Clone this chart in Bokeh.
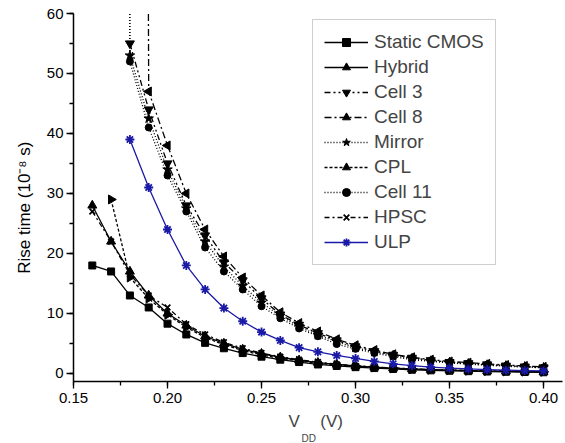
import math
from bokeh.plotting import figure
from bokeh.models import FixedTicker, PrintfTickFormatter, Title, Range1d
from bokeh.embed import file_html
from bokeh.resources import INLINE

# ---- data ----
x_all = [0.16, 0.17, 0.18, 0.19, 0.20, 0.21, 0.22, 0.23, 0.24, 0.25, 0.26, 0.27, 0.28,
         0.29, 0.30, 0.31, 0.32, 0.33, 0.34, 0.35, 0.36, 0.37, 0.38, 0.39, 0.40]
x_from_017 = x_all[1:]
x_from_018 = x_all[2:]

static_cmos = [18, 17, 13, 11, 8.3, 6.5, 5.1, 4.2, 3.4, 2.8, 2.3, 1.9, 1.5, 1.25, 1.05,
               0.9, 0.75, 0.62, 0.52, 0.45, 0.38, 0.32, 0.28, 0.24, 0.2]
hybrid = [28, 22, 17, 13, 10, 8, 6.2, 5, 4, 3.3, 2.7, 2.2, 1.8, 1.5, 1.25, 1.05, 0.88,
          0.75, 0.63, 0.54, 0.47, 0.41, 0.36, 0.32, 0.28]
cell3 = [55, 44, 35, 28, 23, 18.5, 15.5, 12.5, 9.8, 8.1, 6.7, 5.5, 4.5, 3.7, 3.1, 2.6,
         2.2, 1.9, 1.7, 1.5, 1.3, 1.15, 1.0]
cell8 = [900, 47, 38, 30, 24, 19.5, 16, 13, 10.2, 8.4, 7.0, 5.7, 4.7, 3.9, 3.2, 2.7, 2.3,
         2.0, 1.8, 1.6, 1.4, 1.25, 1.1]
mirror = [900, 53, 42.5, 34, 27.5, 22, 17.8, 14.6, 11.8, 9.6, 7.8, 6.4, 5.3, 4.3, 3.6, 3.0,
          2.5, 2.1, 1.85, 1.65, 1.45, 1.3, 1.15, 1.0]
cpl = [29, 16, 12.5, 9.8, 7.7, 6, 4.8, 3.8, 3.1, 2.5, 2.1, 1.7, 1.4, 1.2, 1.0, 0.85, 0.72,
       0.62, 0.53, 0.46, 0.4, 0.35, 0.31, 0.27]
cell11 = [900, 52, 41, 33, 27, 21, 17, 14, 11.2, 9.2, 7.5, 6.2, 4.9, 4.1, 3.4, 2.8, 2.3,
          2.0, 1.75, 1.55, 1.35, 1.2, 1.05, 0.95]
hpsc = [27, 22, 16.5, 13, 11, 8.2, 6.5, 5.2, 4.2, 3.4, 2.8, 2.3, 1.9, 1.55, 1.3, 1.1, 0.92,
        0.78, 0.66, 0.57, 0.5, 0.44, 0.39, 0.35, 0.31]
ulp = [39, 31, 24, 18, 14, 10.9, 8.7, 6.9, 5.5, 4.3, 3.6, 3.0, 2.5, 2.0, 1.6, 1.3, 1.05,
       0.9, 0.75, 0.65, 0.55, 0.48, 0.42]

x_ticks = [0.15, 0.20, 0.25, 0.30, 0.35, 0.40]
y_ticks = [0, 10, 20, 30, 40, 50, 60]

FONT = "Liberation Sans"

p = figure(width=565, height=443, output_backend="svg", toolbar_location=None,
           x_range=Range1d(0.15, 0.4101), y_range=Range1d(-1.34, 60),
           min_border_left=73, min_border_right=3, min_border_top=13, min_border_bottom=20)
p.outline_line_color = None
p.grid.visible = False
p.background_fill_color = "white"
p.border_fill_color = "white"

series = [
    ("Static CMOS", x_all, static_cmos, "solid", "square", 0, 7, "black"),
    ("Hybrid", x_all, hybrid, "solid", "triangle", 0, 9, "black"),
    ("Cell 3", x_from_018, cell3, "6 3 2 3 2 3", "inverted_triangle", 0, 9, "black"),
    ("Cell 8", x_from_018, cell8, "7 3 2 3", "triangle", math.pi / 2, 9, "black"),
    ("Mirror", x_from_017, mirror, "1 2", "star", 0, 10, "black"),
    ("CPL", x_from_017, cpl, "3 2", "triangle", -math.pi / 2, 9, "black"),
    ("Cell 11", x_from_017, cell11, "1 2", "circle", 0, 7, "black"),
    ("HPSC", x_all, hpsc, "5 3 2 3", "x", 0, 8, "black"),
    ("ULP", x_from_018, ulp, "solid", "asterisk", 0, 9, "#1a1aa6"),
]

for name, xs, ys, dash, marker, ang, size, color in series:
    p.line(xs, ys, line_color=color, line_width=1.3, line_dash=dash, legend_label=name)
    p.scatter(xs, ys, marker=marker, angle=ang, size=size, fill_color=color,
              line_color=color, line_width=1.8 if marker in ("x", "asterisk") else 1,
              legend_label=name)

# axes
for ax in (p.xaxis[0], p.yaxis[0]):
    ax.axis_line_color = "black"
    ax.axis_line_width = 1.5
    ax.major_tick_line_color = "black"
    ax.minor_tick_line_color = "black"
    ax.major_tick_line_width = 1.3
    ax.minor_tick_line_width = 1.3
    ax.major_tick_in = 0
    ax.major_tick_out = 7
    ax.minor_tick_in = 0
    ax.minor_tick_out = 4
    ax.major_label_text_font = FONT
    ax.major_label_text_font_size = "15px"
    ax.major_label_text_color = "black"

p.xaxis.ticker = FixedTicker(ticks=x_ticks,
                             minor_ticks=[0.15 + 0.025 * i for i in range(11)])
p.xaxis.formatter = PrintfTickFormatter(format="%.2f")
p.xaxis.major_label_standoff = 4
p.yaxis.ticker = FixedTicker(ticks=y_ticks, minor_ticks=[5 * i for i in range(13)])
p.yaxis.major_label_standoff = 3
p.yaxis.axis_label = "Rise time (10\u207b\u2078 s)\u2003\u2009"
p.yaxis.axis_label_text_font = FONT
p.yaxis.axis_label_text_font_size = "17px"
p.yaxis.axis_label_text_font_style = "normal"
p.yaxis.axis_label_text_color = "black"
p.yaxis.axis_label_standoff = 10

# x-axis label "V_DD (V)" built from two title rows (main text, then subscript)
t_main = Title(text="V\u2002\u2002\u2009(V)", align="left", offset=215,
               text_font=FONT, text_font_size="17px", text_font_style="normal",
               standoff=8)
t_sub = Title(text="DD", align="left", offset=228, vertical_align="top",
              text_font=FONT, text_font_size="10px", text_font_style="normal",
              standoff=-4)
p.add_layout(t_main, "below")
p.add_layout(t_sub, "below")

lg = p.legend[0]
lg.location = (239, 116)
lg.margin = 0
lg.padding = 11
lg.spacing = 3
lg.glyph_width = 44
lg.glyph_height = 20
lg.label_height = 20
lg.label_standoff = 6
lg.label_text_font = FONT
lg.label_text_font_size = "19px"
lg.border_line_color = "#a0a0a0"
lg.border_line_width = 1.3
lg.background_fill_alpha = 1

open("out.html", "w").write(file_html(p, INLINE))
